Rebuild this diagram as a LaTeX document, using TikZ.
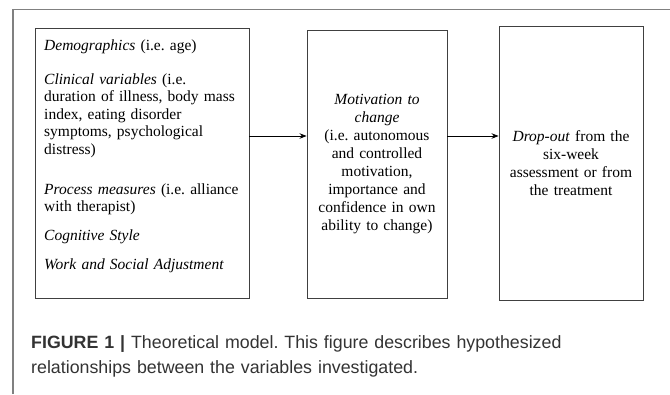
\documentclass[tikz,border=0pt]{standalone}
\usepackage{fontspec}
\usetikzlibrary{arrows.meta}
\setmainfont{Liberation Serif}
\newfontfamily\capfont{Liberation Sans}
\frenchspacing
\begin{document}
\begin{tikzpicture}[x=1pt,y=-1pt,>={Stealth[length=7pt,width=5.5pt]},
  box/.style={draw=black!75,line width=.9pt,inner sep=0pt},
  txt/.style={font=\fontsize{15.5}{17.5}\selectfont,inner sep=0pt}]
\useasboundingbox (0,0) rectangle (670,394);
\draw[black!50,line width=1.6pt](13,394)--(13,9.5)--(670,9.5);
\node[box,minimum width=214,minimum height=270](dem) at (142,163){};
\node[txt,text width=200,align=left,anchor=north west](demtxt) at (44,40){\textit{Demographics} (i.e. age)\\[16pt]
\textit{Clinical variables} (i.e.\\ duration of illness, body mass\\ index, eating disorder\\ symptoms, psychological\\ distress)\\[22.5pt]
\textit{Process measures} (i.e. alliance\\ with therapist)\\[11.5pt]
\textit{Cognitive Style}\\[11.5pt]
\textit{Work and Social Adjustment}};
\node[box,minimum width=140,minimum height=268](mot) at (377,164){};
\node[txt,text width=136,align=center,font=\fontsize{15.5}{18.1}\selectfont](mottxt) at (mot){\textit{Motivation to}\\ \textit{change}\\ (i.e. autonomous\\ and controlled\\ motivation,\\ importance and\\ confidence in own\\ ability to change)};
\node[box,minimum width=144,minimum height=274](drop) at (571,163){};
\node[txt,text width=140,align=center,font=\fontsize{15.5}{18.1}\selectfont](droptxt) at (drop){\textit{Drop-out} from the\\ six-week\\ assessment or from\\ the treatment};
\draw[->,line width=.8pt]([yshift=27pt]dem.east)--([yshift=27pt]dem.east-|mot.west);
\draw[->,line width=.8pt]([yshift=28pt]mot.east)--([yshift=28pt]mot.east-|drop.west);
% caption
\node[font=\capfont\fontsize{17.8}{25}\selectfont,text=black!80,text width=630,align=left,anchor=north west,inner sep=0pt](cap) at (31,335){\textbf{FIGURE 1 |} Theoretical model. This figure describes hypothesized\\ relationships between the variables investigated.};
\end{tikzpicture}
\end{document}
